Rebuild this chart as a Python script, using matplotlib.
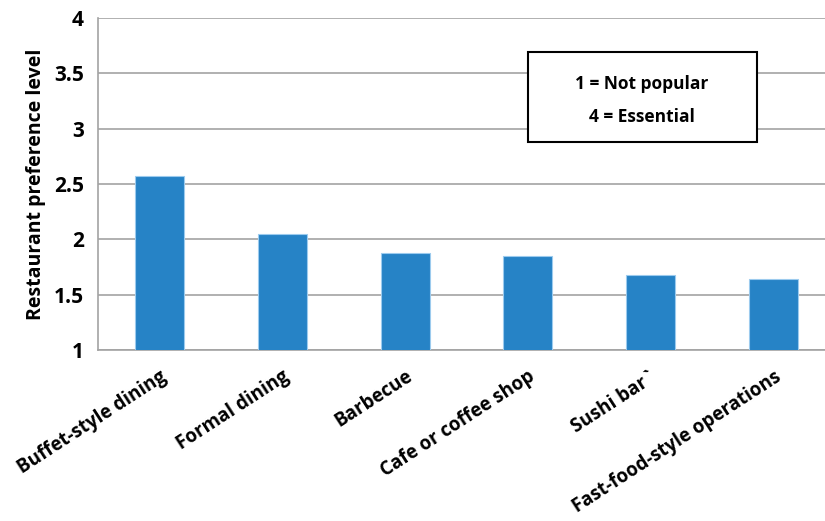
import numpy as np
import matplotlib.pyplot as plt
from matplotlib.patches import Rectangle

categories = ["Buffet-style dining", "Formal dining", "Barbecue",
              "Cafe or coffee shop", "Sushi bar`", "Fast-food-style operations"]
scores = [2.57, 2.05, 1.88, 1.85, 1.68, 1.64]
y_ticks = [1, 1.5, 2, 2.5, 3, 3.5, 4]
y_tick_labels = ["1", "1.5", "2", "2.5", "3", "3.5", "4"]
key_lines = ["1 = Not popular", "4 = Essential"]

plt.rcParams['font.family'] = ['Open Sans', 'DejaVu Sans']

bar_color = '#2683c6'
grid_color = '#a3a3a3'

fig = plt.figure(figsize=(8.25, 5.21), dpi=100)
ax = fig.add_axes([0.1188, 0.3282, 0.8933, 0.6373])

x = np.arange(len(categories))
ax.bar(x, scores, width=0.4, bottom=0, color=bar_color,
       edgecolor='#9ccbee', linewidth=0.8, zorder=3)

ax.set_xlim(-0.5, len(categories) - 0.5)
ax.set_ylim(1, 4)
ax.set_yticks(y_ticks)
ax.set_yticklabels(y_tick_labels, fontsize=15, fontweight='bold')
ax.yaxis.grid(True, color=grid_color, linewidth=1.2, zorder=0)
ax.tick_params(axis='both', length=0)
ax.tick_params(axis='y', pad=10)

ax.set_xticks(x)
ax.set_xticklabels(categories, rotation=33, ha='right', va='top',
                   rotation_mode='anchor', fontsize=13.5, fontweight='bold')
ax.tick_params(axis='x', pad=12)

for side in ['top', 'right']:
    ax.spines[side].set_visible(False)
for side in ['left', 'bottom']:
    ax.spines[side].set_color(grid_color)
    ax.spines[side].set_linewidth(1.2)

ax.set_ylabel("Restaurant preference level", fontsize=14, fontweight='bold',
              labelpad=6)

# scale key box
fig.patches.append(Rectangle((0.64, 0.7274), 0.2776, 0.1727,
                             transform=fig.transFigure, facecolor='white',
                             edgecolor='black', linewidth=1.5, zorder=5))
fig.text(0.778, 0.8390, key_lines[0], ha='center', va='center',
         fontsize=12.5, fontweight='bold', zorder=6)
fig.text(0.778, 0.7760, key_lines[1], ha='center', va='center',
         fontsize=12.5, fontweight='bold', zorder=6)

fig.savefig("out.png", dpi=100)
